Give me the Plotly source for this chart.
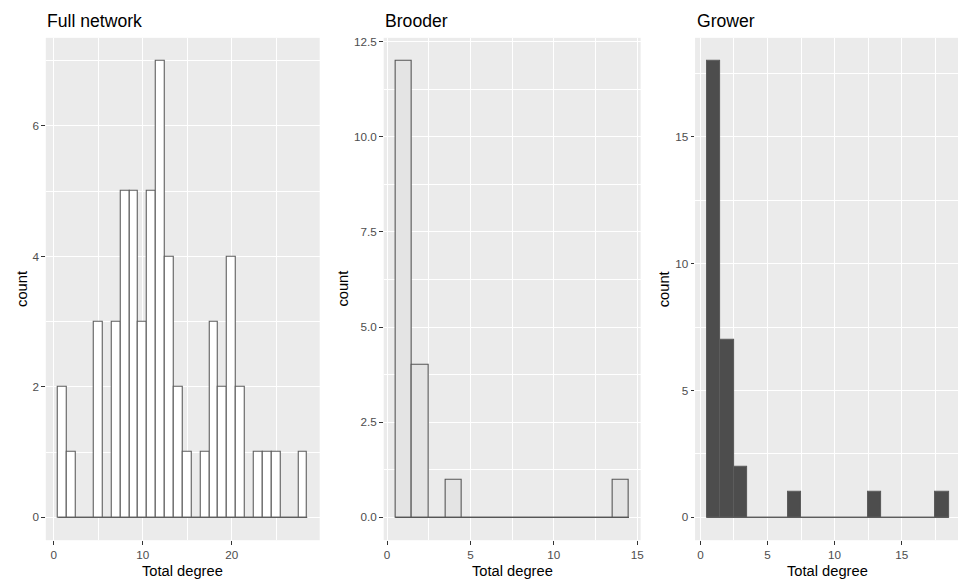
import plotly.graph_objects as go

# ---- data ----
full_degree = list(range(1, 29))
full_count = [2, 1, 0, 0, 3, 0, 3, 5, 5, 3, 5, 7, 4, 2, 1, 0, 1, 3, 2, 4, 2, 0, 1, 1, 1, 0, 0, 1]

brooder_degree = list(range(1, 15))
brooder_count = [12, 4, 0, 1, 0, 0, 0, 0, 0, 0, 0, 0, 0, 1]

grower_degree = list(range(1, 19))
grower_count = [18, 7, 2, 0, 0, 0, 1, 0, 0, 0, 0, 0, 1, 0, 0, 0, 0, 1]

titles = ["Full network", "Brooder", "Grower"]
x_title = "Total degree"
y_title = "count"

W, H = 962, 583

panels = [
    dict(deg=full_degree, cnt=full_count, fill="#ffffff", line="#5e5e5e",
         xdom=[46 / W, 321 / W], xrange=[-0.9, 29.9],
         xt=[0, 10, 20], xtl=["0", "10", "20"], xminor=[5, 15, 25],
         yrange=[-0.35, 7.35], yt=[0, 2, 4, 6], ytl=["0", "2", "4", "6"], yminor=[1, 3, 5, 7]),
    dict(deg=brooder_degree, cnt=brooder_count, fill="#e4e4e4", line="#555555",
         xdom=[385.3 / W, 643.3 / W], xrange=[-0.2, 15.2],
         xt=[0, 5, 10, 15], xtl=["0", "5", "10", "15"], xminor=[2.5, 7.5, 12.5],
         yrange=[-0.6, 12.6], yt=[0, 2.5, 5, 7.5, 10, 12.5],
         ytl=["0.0", "2.5", "5.0", "7.5", "10.0", "12.5"],
         yminor=[1.25, 3.75, 6.25, 8.75, 11.25]),
    dict(deg=grower_degree, cnt=grower_count, fill="#4d4d4d", line="#5c5c5c",
         xdom=[698 / W, 1.0], xrange=[-0.4, -0.4 + (W - 698) / 13.47],
         xt=[0, 5, 10, 15], xtl=["0", "5", "10", "15"], xminor=[2.5, 7.5, 12.5, 17.5],
         yrange=[-0.9, 18.9], yt=[0, 5, 10, 15], ytl=["0", "5", "10", "15"],
         yminor=[2.5, 7.5, 12.5, 17.5]),
]

ydom = [1 - 540 / H, 1 - 35 / H]
FONT = "Liberation Sans, Arial, sans-serif"

fig = go.Figure()
annotations = []
layout = {}

for i, p in enumerate(panels):
    n = "" if i == 0 else str(i + 1)
    xa, ya = "x" + n, "y" + n
    lo = min(p["deg"]) - 0.5
    hi = max(p["deg"]) + 0.5
    # baseline drawn by zero-height bins
    fig.add_trace(go.Scatter(x=[lo, hi], y=[0, 0], mode="lines",
                             line=dict(color=p["line"], width=1.2),
                             xaxis=xa, yaxis=ya, showlegend=False, hoverinfo="skip"))
    fig.add_trace(go.Bar(x=p["deg"], y=p["cnt"], width=1,
                         marker=dict(color=p["fill"], line=dict(color=p["line"], width=1.1)),
                         xaxis=xa, yaxis=ya, showlegend=False))
    common = dict(ticks="outside", ticklen=3.5, tickwidth=1, tickcolor="#333333",
                  tickfont=dict(family=FONT, size=11.7, color="#4d4d4d"),
                  showgrid=True, gridcolor="#ffffff", gridwidth=1.1,
                  zeroline=False, showline=False, fixedrange=True)
    layout["xaxis" + n] = dict(domain=p["xdom"], range=p["xrange"], anchor=ya,
                               tickmode="array", tickvals=p["xt"], ticktext=p["xtl"],
                               minor=dict(tickvals=p["xminor"], showgrid=True,
                                          gridcolor="#ffffff", gridwidth=0.55, ticks=""),
                               **common)
    layout["yaxis" + n] = dict(domain=ydom, range=p["yrange"], anchor=xa,
                               tickmode="array", tickvals=p["yt"], ticktext=p["ytl"],
                               minor=dict(tickvals=p["yminor"], showgrid=True,
                                          gridcolor="#ffffff", gridwidth=0.55, ticks=""),
                               **common)
    x0, x1 = p["xdom"]
    right_px = min(x1 * W, W) if i < 2 else 964.6
    # title
    annotations.append(dict(text=titles[i], x=(x0 * W - 0.5) / W, y=1 - 18 / H,
                            xref="paper", yref="paper",
                            xanchor="left", yanchor="middle", showarrow=False,
                            font=dict(family=FONT, size=17.6, color="#000000")))
    # x-axis title
    annotations.append(dict(text=x_title, x=(x0 * W + right_px) / 2 / W, y=1 - 571 / H,
                            xref="paper", yref="paper", xanchor="center", yanchor="middle",
                            showarrow=False,
                            font=dict(family=FONT, size=14.7, color="#000000")))
    # y-axis title
    ytx = [22, 344, 667][i]
    annotations.append(dict(text=y_title, x=ytx / W, y=(ydom[0] + ydom[1]) / 2,
                            xref="paper", yref="paper", xanchor="center", yanchor="middle",
                            textangle=-90, showarrow=False,
                            font=dict(family=FONT, size=14.7, color="#000000")))

fig.update_layout(width=W, height=H, margin=dict(l=0, r=0, t=0, b=0),
                  paper_bgcolor="#ffffff", plot_bgcolor="#ebebeb",
                  bargap=0, annotations=annotations, showlegend=False, **layout)

fig.write_html("out.html")
